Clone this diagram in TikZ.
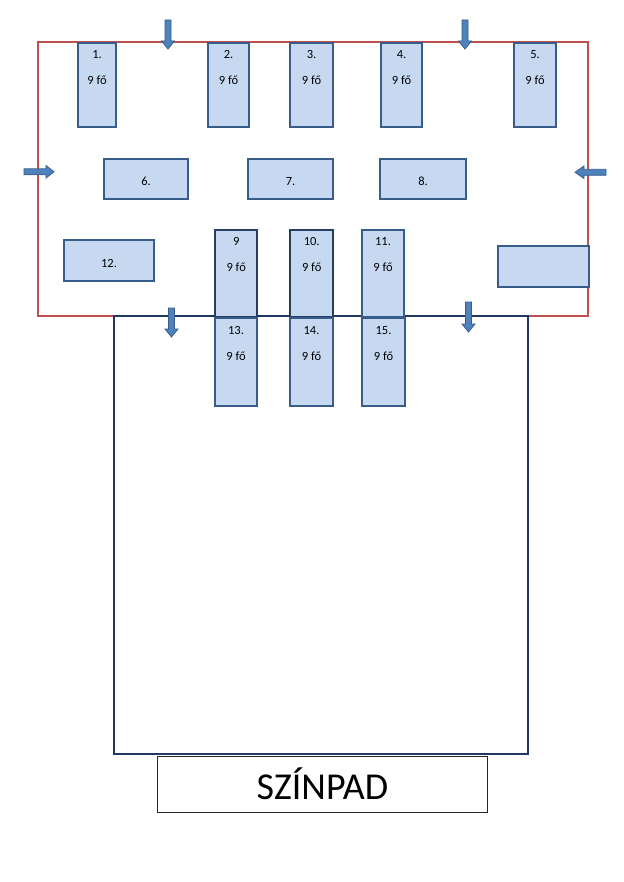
\documentclass[tikz,border=0pt]{standalone}
\usepackage{fontspec}
\setmainfont{Carlito}
\definecolor{tfill}{HTML}{C6D9F1}
\definecolor{tline}{HTML}{385D8A}
\definecolor{tdark}{HTML}{243F60}
\definecolor{hall}{HTML}{1F3864}
\definecolor{redl}{HTML}{C0504D}
\definecolor{arrf}{HTML}{4F81BD}
\tikzset{
  tbl/.style={draw=tline, fill=tfill, line width=2pt, anchor=north west, inner sep=0pt},
  tbldark/.style={tbl, draw=tdark, line width=2.4pt},
  txt/.style={font=\fontsize{12.5}{14}\selectfont, inner sep=0pt, text height=8pt, text depth=0pt},
  arr/.style={draw=tline, fill=arrf, line width=0.8pt, line join=miter},
  redwall/.style={draw=redl, line width=1.8pt},
  hallwall/.style={draw=hall, line width=1.8pt},
}
\newcommand\mytable[8][tbl]{%
  \node[#1, minimum width=#5pt-#3pt, minimum height=#6pt-#4pt] (#2) at (#3,#4) {};
  \node[txt] (#2a) at ([yshift=-13pt]#2.north) {#7};
  \node[txt] (#2b) at ([yshift=-39pt]#2.north) {#8};
}
\newcommand\mybar[6]{%
  \node[tbl, minimum width=#4pt-#2pt, minimum height=#5pt-#3pt] (#1) at (#2,#3) {};
  \node[txt] (#1a) at ([yshift=-3pt]#1.center) {#6};
}
\newcommand\downarr[4]{%
  \path[arr] (#2-3,#3) -- (#2+3,#3) -- (#2+3,#4-8) -- (#2+6.5,#4-8) -- (#2,#4) -- (#2-6.5,#4-8) -- (#2-3,#4-8) -- cycle;
  \coordinate (#1) at (#2,#4);
}
\begin{document}
\begin{tikzpicture}[x=1pt,y=-1pt]
\useasboundingbox (0,0) rectangle (623,882);
% walls
\coordinate (w1) at (114,316);
\coordinate (w2) at (38,316);
\coordinate (w3) at (38,42);
\coordinate (w4) at (588,42);
\coordinate (w5) at (588,316);
\coordinate (w6) at (528,316);
\coordinate (h1) at (114,754);
\coordinate (h2) at (528,754);
\draw[redwall] (w1) -- (w2) -- (w3) -- (w4) -- (w5) -- (w6);
\draw[hallwall, line join=miter] (w1) -- (h1) -- (h2) -- (w6) -- cycle;
% top row
\mytable{t1}{77}{42}{115}{126}{1.}{9 fő}
\mytable{t2}{207}{42}{248}{126}{2.}{9 fő}
\mytable{t3}{289}{42}{332}{126}{3.}{9 fő}
\mytable{t4}{380}{42}{421}{126}{4.}{9 fő}
\mytable{t5}{513}{42}{555}{126}{5.}{9 fő}
% middle bars
\mybar{t6}{103}{158}{187}{198}{6.}
\mybar{t7}{247}{158}{332}{198}{7.}
\mybar{t8}{379}{158}{465}{198}{8.}
\mybar{t12}{63}{239}{153}{280}{12.}
\node[tbl, minimum width=91pt, minimum height=41pt] (t16) at (497,245) {};
% lower tables
\mytable[tbldark]{t9}{214}{229}{256}{316}{9}{9 fő}
\mytable[tbldark]{t10}{289}{229}{332}{316}{10.}{9 fő}
\mytable{t11}{361}{229}{403}{316}{11.}{9 fő}
\mytable{t13}{214}{317}{256}{405}{13.}{9 fő}
\mytable{t14}{289}{317}{332}{405}{14.}{9 fő}
\mytable{t15}{361}{317}{404}{405}{15.}{9 fő}
% arrows
\downarr{a1}{168}{20}{49}
\downarr{a2}{465}{20}{49}
\downarr{a3}{171.5}{308}{337}
\downarr{a4}{468.5}{302}{332}
\path[arr] (24,168.8) -- (46,168.8) -- (46,165.5) -- (54,171.8) -- (46,178) -- (46,174.8) -- (24,174.8) -- cycle;
\coordinate (a5) at (54,171.8);
\path[arr] (606,169.3) -- (584,169.3) -- (584,166) -- (575,172.3) -- (584,178.5) -- (584,175.3) -- (606,175.3) -- cycle;
\coordinate (a6) at (575,172.3);
% stage
\node[draw=black!85, line width=0.9pt, fill=white, minimum width=330pt, minimum height=56pt, anchor=north west, inner sep=0pt] (stage) at (157,756) {};
\node[font=\fontsize{38}{42}\selectfont, inner sep=0pt] (stagetxt) at ([yshift=1pt]stage.center) {SZÍNPAD};
\end{tikzpicture}
\end{document}
